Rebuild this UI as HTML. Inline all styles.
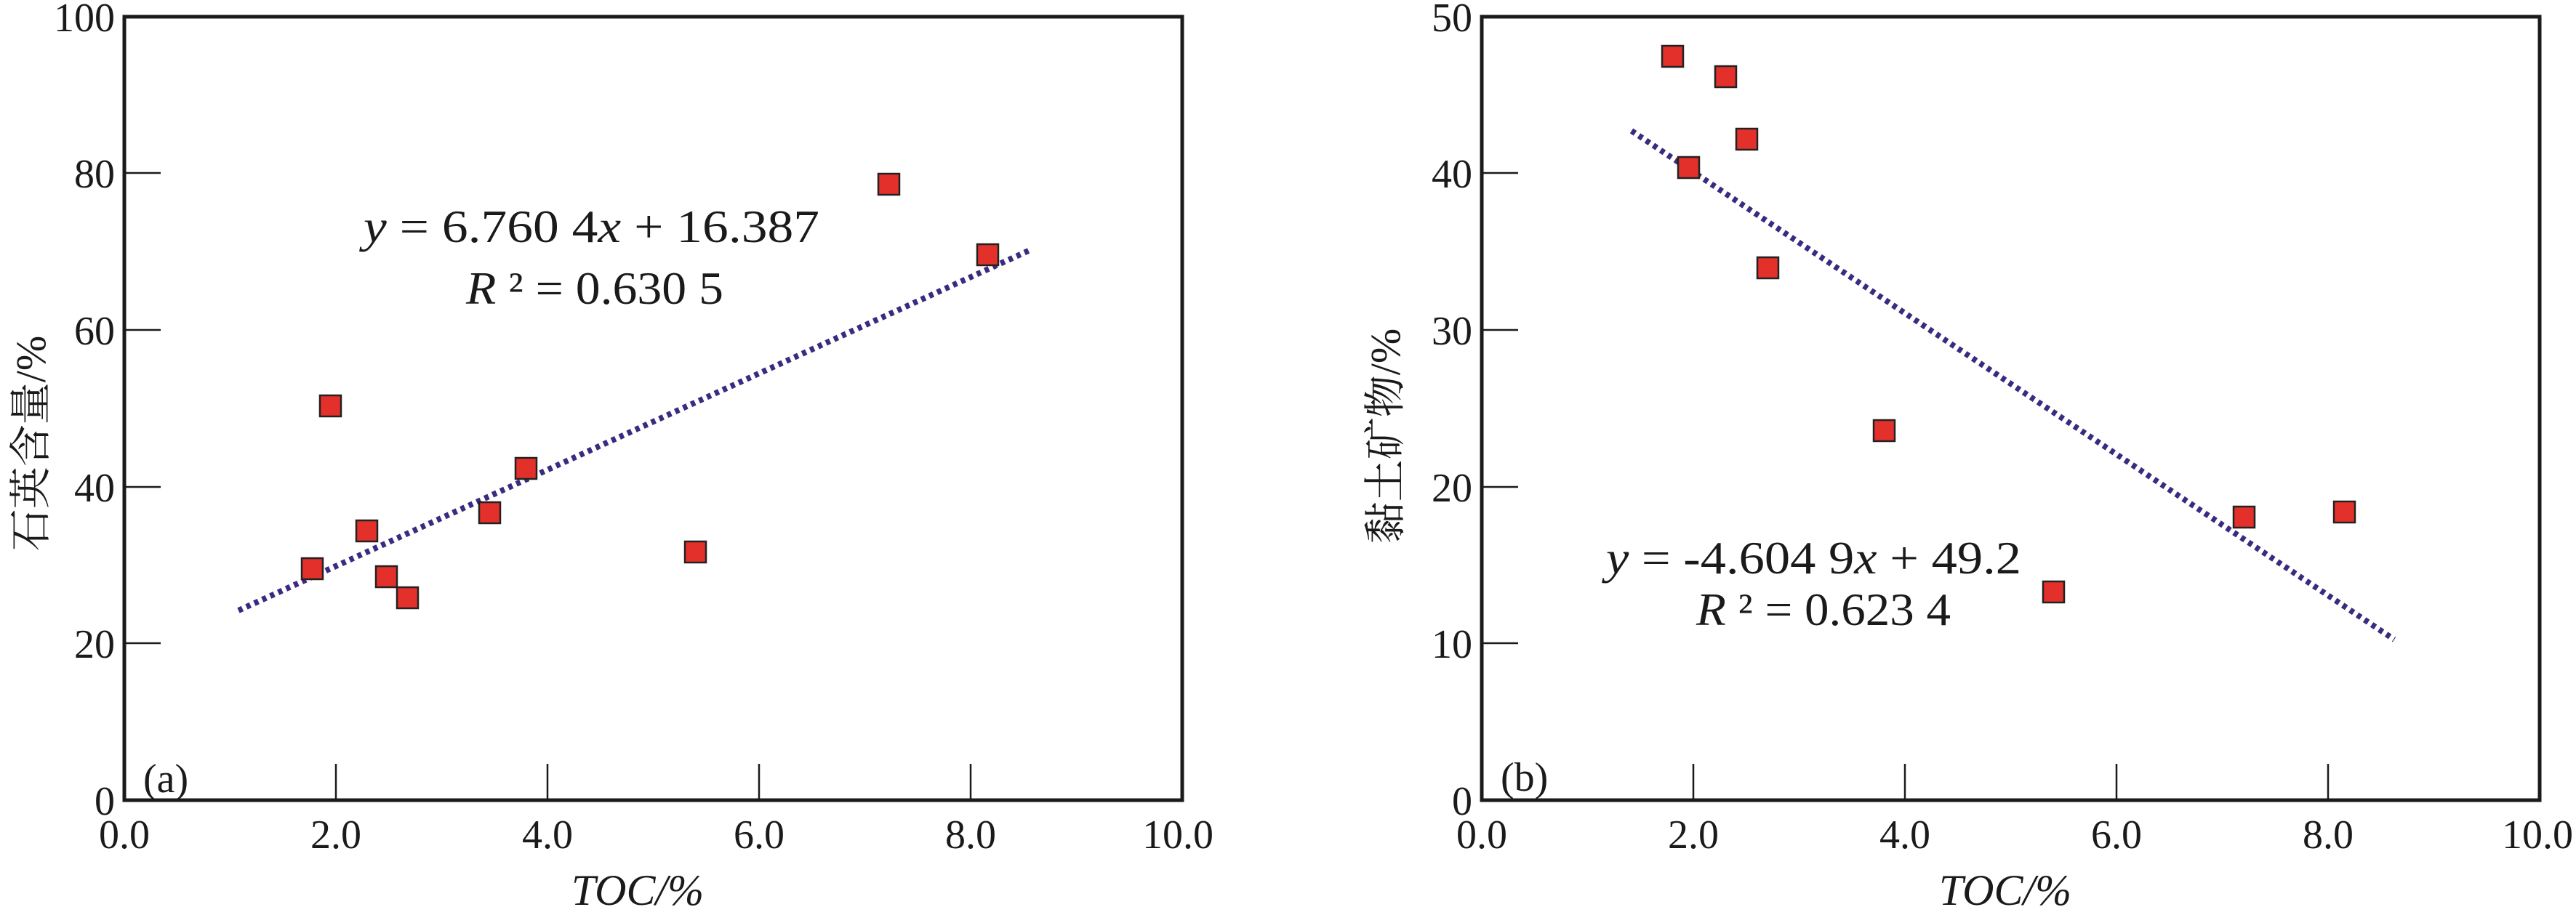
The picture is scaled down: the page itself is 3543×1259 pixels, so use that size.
<!DOCTYPE html>
<html><head><meta charset="utf-8"><style>html,body{margin:0;padding:0;background:#fff}svg{display:block}</style></head>
<body>
<svg width="3543" height="1259" viewBox="0 0 3543 1259" xmlns="http://www.w3.org/2000/svg" font-family="'Liberation Serif', serif" fill="#1a1a1a">
<!-- Panel A -->
<g stroke="#1a1a1a" stroke-width="2.5" fill="none">
<line x1="171" y1="885" x2="221" y2="885"/><line x1="171" y1="670" x2="221" y2="670"/><line x1="171" y1="454" x2="221" y2="454"/><line x1="171" y1="238" x2="221" y2="238"/>
<line x1="462" y1="1101" x2="462" y2="1051"/><line x1="753" y1="1101" x2="753" y2="1051"/><line x1="1044" y1="1101" x2="1044" y2="1051"/><line x1="1335" y1="1101" x2="1335" y2="1051"/>
</g>
<rect x="171" y="23" width="1455" height="1078" fill="none" stroke="#1a1a1a" stroke-width="5"/>
<g font-size="56" text-anchor="end">
<text x="158" y="43">100</text><text x="158" y="258">80</text><text x="158" y="474">60</text><text x="158" y="690">40</text><text x="158" y="905">20</text><text x="158" y="1121">0</text>
</g>
<g font-size="56" text-anchor="middle">
<text x="171" y="1167">0.0</text><text x="462" y="1167">2.0</text><text x="753" y="1167">4.0</text><text x="1044" y="1167">6.0</text><text x="1335" y="1167">8.0</text><text x="1620" y="1167">10.0</text>
</g>
<text x="877" y="1245" font-size="60" font-style="italic" text-anchor="middle">TOC/%</text>
<text transform="translate(62,610) rotate(-90)" font-size="58" text-anchor="middle" font-family="'Liberation Serif','Noto Serif CJK SC',serif">石英含量/%</text>
<text x="197" y="1090" font-size="56">(a)</text>
<line x1="328" y1="840" x2="1419" y2="343" stroke="#3b2a80" stroke-width="8" stroke-dasharray="6 6"/>
<g fill="#e3302a" stroke="#222" stroke-width="2.5">
<rect x="415" y="768" width="29" height="29"/><rect x="440" y="544" width="29" height="29"/><rect x="490" y="716" width="29" height="29"/><rect x="517" y="779" width="29" height="29"/><rect x="546" y="808" width="29" height="29"/><rect x="659" y="691" width="29" height="29"/><rect x="709" y="630" width="29" height="29"/><rect x="942" y="745" width="29" height="29"/><rect x="1208" y="239" width="29" height="29"/><rect x="1344" y="336" width="29" height="29"/>
</g>
<text x="500" y="333" font-size="64" textLength="627" lengthAdjust="spacingAndGlyphs"><tspan font-style="italic">y</tspan> = 6.760 4<tspan font-style="italic">x</tspan> + 16.387</text>
<text x="641" y="418" font-size="64" textLength="354" lengthAdjust="spacingAndGlyphs"><tspan font-style="italic">R</tspan> ² = 0.630 5</text>

<!-- Panel B -->
<g stroke="#1a1a1a" stroke-width="2.5" fill="none">
<line x1="2038" y1="885" x2="2088" y2="885"/><line x1="2038" y1="670" x2="2088" y2="670"/><line x1="2038" y1="454" x2="2088" y2="454"/><line x1="2038" y1="238" x2="2088" y2="238"/>
<line x1="2329" y1="1101" x2="2329" y2="1051"/><line x1="2620" y1="1101" x2="2620" y2="1051"/><line x1="2911" y1="1101" x2="2911" y2="1051"/><line x1="3202" y1="1101" x2="3202" y2="1051"/>
</g>
<rect x="2038" y="23" width="1455" height="1078" fill="none" stroke="#1a1a1a" stroke-width="5"/>
<g font-size="56" text-anchor="end">
<text x="2025" y="43">50</text><text x="2025" y="258">40</text><text x="2025" y="474">30</text><text x="2025" y="690">20</text><text x="2025" y="905">10</text><text x="2025" y="1121">0</text>
</g>
<g font-size="56" text-anchor="middle">
<text x="2038" y="1167">0.0</text><text x="2329" y="1167">2.0</text><text x="2620" y="1167">4.0</text><text x="2911" y="1167">6.0</text><text x="3202" y="1167">8.0</text><text x="3490" y="1167">10.0</text>
</g>
<text x="2758" y="1245" font-size="60" font-style="italic" text-anchor="middle">TOC/%</text>
<text transform="translate(1925,600) rotate(-90)" font-size="58" text-anchor="middle" font-family="'Liberation Serif','Noto Serif CJK SC',serif">黏土矿物/%</text>
<text x="2064" y="1088" font-size="56">(b)</text>
<line x1="2244" y1="180" x2="3293" y2="880" stroke="#3b2a80" stroke-width="8" stroke-dasharray="6 6"/>
<g fill="#e3302a" stroke="#222" stroke-width="2.5">
<rect x="2286" y="63" width="29" height="29"/><rect x="2308" y="216" width="29" height="29"/><rect x="2359" y="91" width="29" height="29"/><rect x="2388" y="177" width="29" height="29"/><rect x="2417" y="354" width="29" height="29"/><rect x="2577" y="578" width="29" height="29"/><rect x="2810" y="800" width="29" height="29"/><rect x="3072" y="697" width="29" height="29"/><rect x="3210" y="690" width="29" height="29"/>
</g>
<text x="2209" y="789" font-size="64" textLength="571" lengthAdjust="spacingAndGlyphs"><tspan font-style="italic">y</tspan> = -4.604 9<tspan font-style="italic">x</tspan> + 49.2</text>
<text x="2333" y="860" font-size="64" textLength="350" lengthAdjust="spacingAndGlyphs"><tspan font-style="italic">R</tspan> ² = 0.623 4</text>
</svg>
</body></html>
